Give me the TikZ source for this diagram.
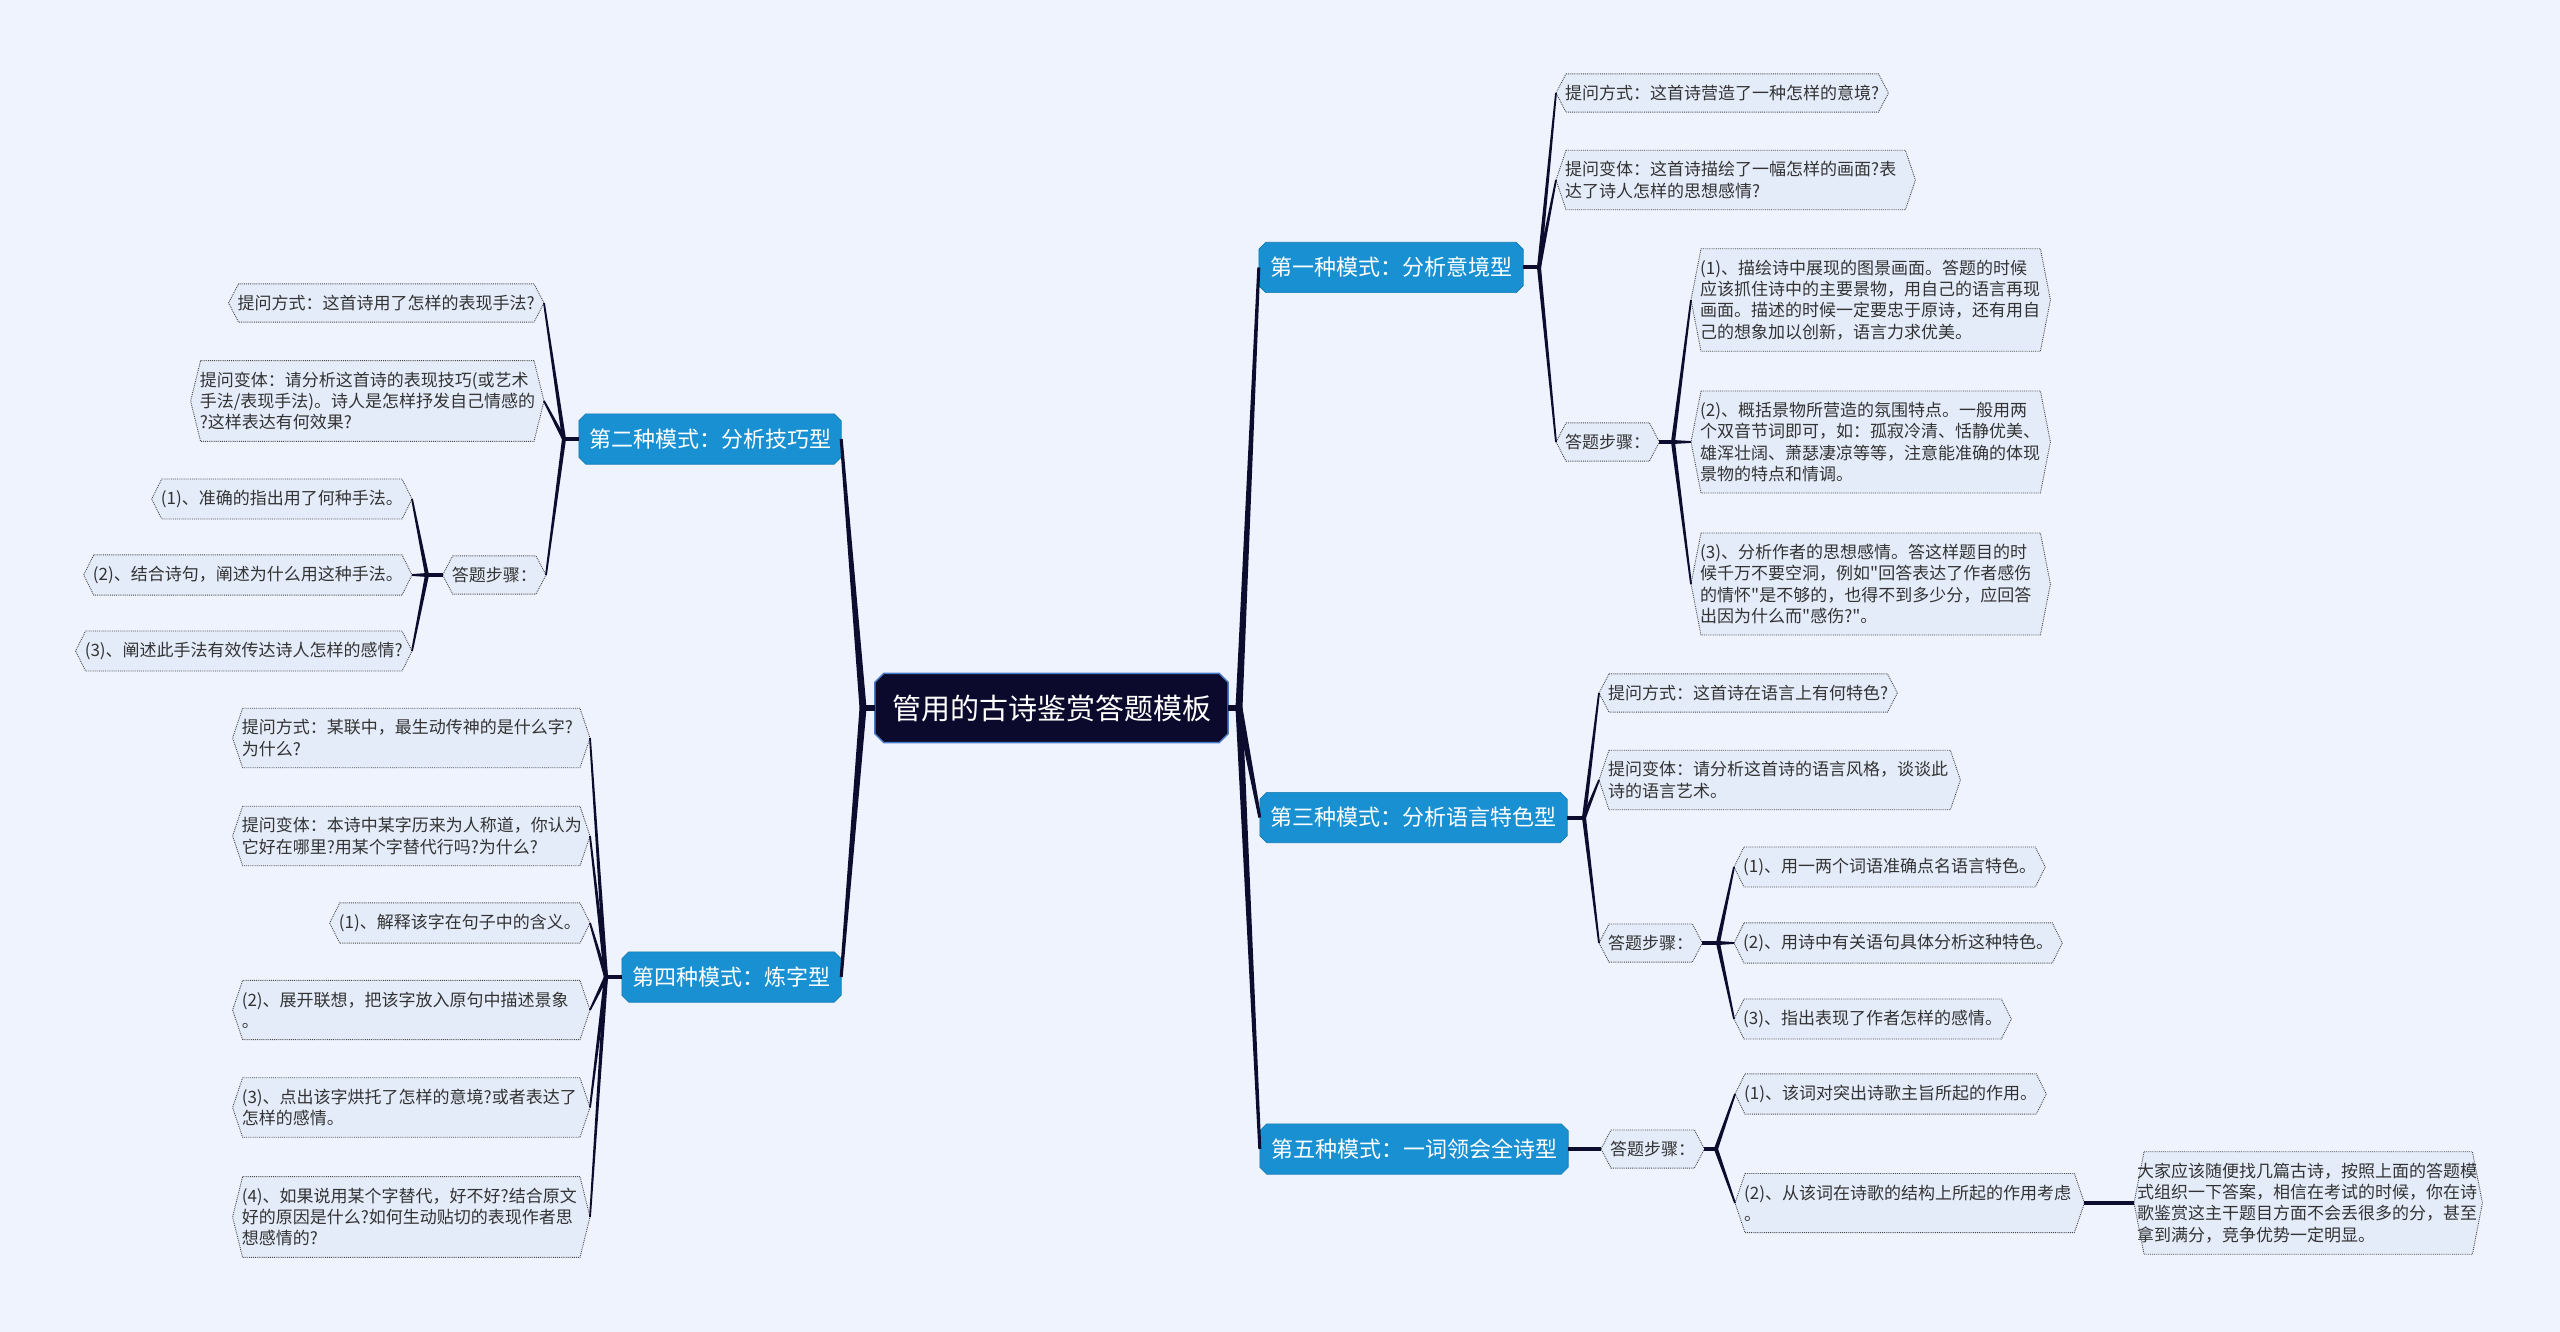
\documentclass[tikz,border=0pt]{standalone}
\usepackage{fontspec}
\setmainfont{Noto Sans CJK SC}[Ligatures=TeXOff]
\usetikzlibrary{calc}
\pgfdeclarelayer{bg}
\pgfdeclarelayer{shapes}
\pgfsetlayers{bg,shapes,main}
\definecolor{bgc}{HTML}{EEF3FD}
\definecolor{leaffill}{HTML}{E4ECFA}
\definecolor{leafline}{HTML}{4A4A4A}
\definecolor{leaftext}{HTML}{333333}
\definecolor{branchc}{HTML}{1890D2}
\definecolor{rootc}{HTML}{0C0A2C}
\definecolor{rootline}{HTML}{4A7BC8}
\definecolor{linkc}{HTML}{0E0C2E}
\tikzset{
  leaf/.style={inner xsep=9pt, inner ysep=11pt, align=left, text=leaftext, font=\fontsize{17}{21.3}\selectfont},
  leafw/.style={leaf, text width=#1},
  branch/.style={inner sep=0pt, text=white, font=\fontsize{22}{26}\selectfont, minimum height=50pt},
  rootnode/.style={inner sep=0pt, text=white, font=\fontsize{29}{34}\selectfont, minimum width=353pt, minimum height=69pt},
  leafshape/.style={fill=leaffill, draw=leafline, densely dotted, line width=0.9pt},
  branchshape/.style={fill=branchc, draw=branchc!85!black, line width=0.6pt},
  rootshape/.style={fill=rootc, draw=rootline, line width=1.5pt},
  stub/.style={draw=linkc, line width=#1},
}
% tapered connector: from, to, half width at from, half width at to
\newcommand\linkto[4]{\fill[linkc] ($(#1)!#3!90:(#2)$) -- ($(#2)!#4!-90:(#1)$) -- ($(#2)!#4!90:(#1)$) -- ($(#1)!#3!-90:(#2)$) -- cycle;}
\newcommand\hexbox[1]{\path[leafshape] ($(#1.north west)+(10,0)$) -- ($(#1.north east)+(-10,0)$) -- (#1.east) -- ($(#1.south east)+(-10,0)$) -- ($(#1.south west)+(10,0)$) -- (#1.west) -- cycle;}
\newcommand\chambox[3]{\path[#3] ($(#1.north west)+(#2,0)$) -- ($(#1.north east)+(-#2,0)$) -- ($(#1.north east)+(0,#2)$) -- ($(#1.south east)+(0,-#2)$) -- ($(#1.south east)+(-#2,0)$) -- ($(#1.south west)+(#2,0)$) -- ($(#1.south west)+(0,-#2)$) -- ($(#1.north west)+(0,#2)$) -- cycle;}
\begin{document}
\begin{tikzpicture}[x=1pt,y=-1pt]
\begin{pgfonlayer}{bg}
\fill[bgc] (0,0) rectangle (2560,1332);
\end{pgfonlayer}
\path[use as bounding box] (0,0) rectangle (2560,1332);

% root and branches
\node[rootnode] (root) at (1051.5,708) {管用的古诗鉴赏答题模板};
\node[branch, minimum width=264pt] (b1) at (1391,267.5) {第一种模式：分析意境型};
\node[branch, minimum width=262pt] (b2) at (710,439) {第二种模式：分析技巧型};
\node[branch, minimum width=307pt] (b3) at (1413.5,817.5) {第三种模式：分析语言特色型};
\node[branch, minimum width=219pt] (b4) at (731.5,977) {第四种模式：炼字型};
\node[branch, minimum width=308pt] (b5) at (1414,1149) {第五种模式：一词领会全诗型};

% branch 1
\node[leaf, anchor=west] (r1a) at (1556,93) {提问方式：这首诗营造了一种怎样的意境?};
\node[leafw=341pt, anchor=west] (r1b) at (1556,180) {提问变体：这首诗描绘了一幅怎样的画面?表\\达了诗人怎样的思想感情?};
\node[leaf, anchor=west] (r1s) at (1556,442) {答题步骤：};
\node[leafw=341pt, anchor=west] (r1s1) at (1691,300) {(1)、描绘诗中展现的图景画面。答题的时候\\应该抓住诗中的主要景物，用自己的语言再现\\画面。描述的时候一定要忠于原诗，还有用自\\己的想象加以创新，语言力求优美。};
\node[leafw=341pt, anchor=west] (r1s2) at (1691,442) {(2)、概括景物所营造的氛围特点。一般用两\\个双音节词即可，如：孤寂冷清、恬静优美、\\雄浑壮阔、萧瑟凄凉等等，注意能准确的体现\\景物的特点和情调。};
\node[leafw=341pt, anchor=west] (r1s3) at (1691,584) {(3)、分析作者的思想感情。答这样题目的时\\候千万不要空洞，例如"回答表达了作者感伤\\的情怀"是不够的，也得不到多少分，应回答\\出因为什么而"感伤?"。};

% branch 3
\node[leaf, anchor=west] (r3a) at (1599,693) {提问方式：这首诗在语言上有何特色?};
\node[leafw=343pt, anchor=west] (r3b) at (1599,780) {提问变体：请分析这首诗的语言风格，谈谈此\\诗的语言艺术。};
\node[leaf, anchor=west] (r3s) at (1599,943) {答题步骤：};
\node[leaf, anchor=west] (r3s1) at (1734,867) {(1)、用一两个词语准确点名语言特色。};
\node[leaf, anchor=west] (r3s2) at (1734,943) {(2)、用诗中有关语句具体分析这种特色。};
\node[leaf, anchor=west] (r3s3) at (1734,1019) {(3)、指出表现了作者怎样的感情。};

% branch 5
\node[leaf, anchor=west] (r5s) at (1601,1149) {答题步骤：};
\node[leaf, anchor=west] (r5s1) at (1735,1094) {(1)、该词对突出诗歌主旨所起的作用。};
\node[leafw=331pt, anchor=west] (r5s2) at (1735,1203) {(2)、从该词在诗歌的结构上所起的作用考虑\\。};
\node[leafw=342pt, inner xsep=3pt, anchor=west] (r5x) at (2134,1203) {大家应该随便找几篇古诗，按照上面的答题模\\式组织一下答案，相信在考试的时候，你在诗\\歌鉴赏这主干题目方面不会丢很多的分，甚至\\拿到满分，竞争优势一定明显。};

% branch 2
\node[leaf, anchor=east] (l2a) at (544,303) {提问方式：这首诗用了怎样的表现手法?};
\node[leafw=335pt, anchor=east] (l2b) at (544,401) {提问变体：请分析这首诗的表现技巧(或艺术\\手法/表现手法)。诗人是怎样抒发自己情感的\\?这样表达有何效果?};
\node[leaf, anchor=east] (l2s) at (546,575) {答题步骤：};
\node[leaf, anchor=east] (l2s1) at (412,499) {(1)、准确的指出用了何种手法。};
\node[leaf, anchor=east] (l2s2) at (412,575) {(2)、结合诗句，阐述为什么用这种手法。};
\node[leaf, anchor=east] (l2s3) at (412,651) {(3)、阐述此手法有效传达诗人怎样的感情?};

% branch 4
\node[leafw=339pt, anchor=east] (l4a) at (590,738) {提问方式：某联中，最生动传神的是什么字?\\为什么?};
\node[leafw=339pt, anchor=east] (l4b) at (590,836) {提问变体：本诗中某字历来为人称道，你认为\\它好在哪里?用某个字替代行吗?为什么?};
\node[leaf, anchor=east] (l4c) at (590,923) {(1)、解释该字在句子中的含义。};
\node[leafw=339pt, anchor=east] (l4d) at (590,1010) {(2)、展开联想，把该字放入原句中描述景象\\。};
\node[leafw=339pt, anchor=east] (l4e) at (590,1107.5) {(3)、点出该字烘托了怎样的意境?或者表达了\\怎样的感情。};
\node[leafw=339pt, anchor=east] (l4f) at (590,1217) {(4)、如果说用某个字替代，好不好?结合原文\\好的原因是什么?如何生动贴切的表现作者思\\想感情的?};

% hubs
\coordinate (hCR) at (1239,708);
\coordinate (hCL) at (863,708);
\coordinate (h1) at (1539,267.5);
\coordinate (h1s) at (1673,442);
\coordinate (h3) at (1584,817.5);
\coordinate (h3s) at (1718,943);
\coordinate (h5s) at (1716,1149);
\coordinate (h2) at (564,439);
\coordinate (h2s) at (427,575);
\coordinate (h4) at (606,977);

% connectors
\draw[stub=6pt] (root.east) -- (hCR);
\draw[stub=6pt] (root.west) -- (hCL);
\linkto{hCR}{b1.west}{3.5pt}{1.5pt}
\linkto{hCR}{b3.west}{3.5pt}{1.5pt}
\linkto{hCR}{b5.west}{3.5pt}{1.5pt}
\linkto{hCL}{b2.east}{3.5pt}{1.5pt}
\linkto{hCL}{b4.east}{3.5pt}{1.5pt}

\draw[stub=4pt] (b1.east) -- (h1);
\linkto{h1}{r1a.west}{2pt}{0.9pt}
\linkto{h1}{r1b.west}{2pt}{0.9pt}
\linkto{h1}{r1s.west}{2pt}{0.9pt}
\draw[stub=4pt] (r1s.east) -- (h1s);
\linkto{h1s}{r1s1.west}{2pt}{0.9pt}
\linkto{h1s}{r1s2.west}{2pt}{0.9pt}
\linkto{h1s}{r1s3.west}{2pt}{0.9pt}

\draw[stub=4pt] (b3.east) -- (h3);
\linkto{h3}{r3a.west}{2pt}{0.9pt}
\linkto{h3}{r3b.west}{2pt}{0.9pt}
\linkto{h3}{r3s.west}{2pt}{0.9pt}
\draw[stub=4pt] (r3s.east) -- (h3s);
\linkto{h3s}{r3s1.west}{2pt}{0.9pt}
\linkto{h3s}{r3s2.west}{2pt}{0.9pt}
\linkto{h3s}{r3s3.west}{2pt}{0.9pt}

\draw[stub=4pt] (b5.east) -- (r5s.west);
\draw[stub=4pt] (r5s.east) -- (h5s);
\linkto{h5s}{r5s1.west}{2pt}{0.9pt}
\linkto{h5s}{r5s2.west}{2pt}{0.9pt}
\draw[stub=4pt] (r5s2.east) -- (r5x.west);

\draw[stub=4pt] (b2.west) -- (h2);
\linkto{h2}{l2a.east}{2pt}{0.9pt}
\linkto{h2}{l2b.east}{2pt}{0.9pt}
\linkto{h2}{l2s.east}{2pt}{0.9pt}
\draw[stub=4pt] (l2s.west) -- (h2s);
\linkto{h2s}{l2s1.east}{2pt}{0.9pt}
\linkto{h2s}{l2s2.east}{2pt}{0.9pt}
\linkto{h2s}{l2s3.east}{2pt}{0.9pt}

\draw[stub=4pt] (b4.west) -- (h4);
\foreach \n in {l4a,l4b,l4c,l4d,l4e,l4f}{\linkto{h4}{\n.east}{2pt}{0.9pt}}

% shapes behind the text
\begin{pgfonlayer}{shapes}
\chambox{root}{9}{rootshape}
\foreach \n in {b1,b2,b3,b4,b5}{\chambox{\n}{7}{branchshape}}
\foreach \n in {r1a,r1b,r1s,r1s1,r1s2,r1s3,r3a,r3b,r3s,r3s1,r3s2,r3s3,r5s,r5s1,r5s2,r5x,l2a,l2b,l2s,l2s1,l2s2,l2s3,l4a,l4b,l4c,l4d,l4e,l4f}{\hexbox{\n}}
\end{pgfonlayer}
\end{tikzpicture}
\end{document}
